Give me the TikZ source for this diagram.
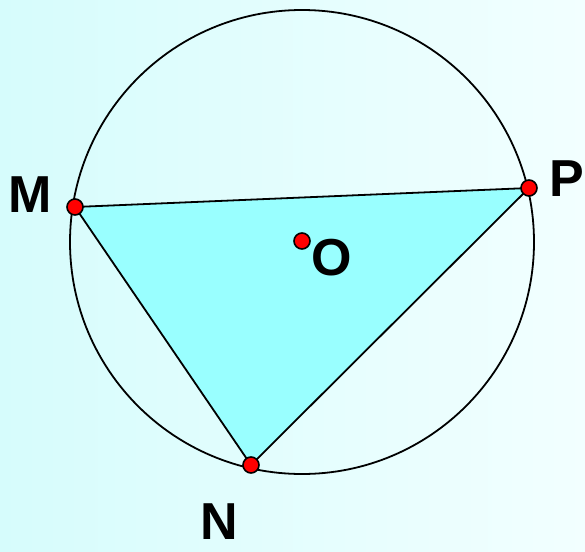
\documentclass[tikz,border=0pt]{standalone}
\usepackage{fontspec}
\setmainfont{Liberation Sans}
\definecolor{bgL}{RGB}{214,252,252}
\definecolor{bgR}{RGB}{242,255,255}
\definecolor{triFill}{RGB}{153,255,255}
\definecolor{dotRed}{RGB}{255,0,0}
\tikzset{
  dot/.style={circle, fill=dotRed, draw=black, line width=1.6pt, minimum size=16pt, inner sep=0pt},
  lbl/.style={font=\fontsize{52}{60}\selectfont\bfseries, inner sep=0pt, text=black},
  edge/.style={line width=1.8pt, draw=black}
}
\begin{document}
\begin{tikzpicture}[x=1pt,y=-1pt]
\useasboundingbox (0,0) rectangle (585,551);
\shade[shading angle=60, left color=bgL, right color=bgR] (0,0) rectangle (585,551);
\coordinate (Mc) at (75,207);
\coordinate (Pc) at (529,188);
\coordinate (Nc) at (251,465);
\coordinate (Oc) at (302,241);
\fill[triFill] (Mc) -- (Pc) -- (Nc) -- cycle;
\draw[edge] (302,242) circle[radius=232];
\draw[edge] (Mc) -- (Pc) -- (Nc) -- (Mc);
\node[dot] (M) at (Mc) {};
\node[dot] (P) at (Pc) {};
\node[dot] (N) at (Nc) {};
\node[dot] (O) at (Oc) {};
\node[lbl] (lM) at (30,195) {M};
\node[lbl] (lP) at (567,179) {P};
\node[lbl] (lO) at (332,258) {O};
\node[lbl] (lN) at (219,522) {N};
\end{tikzpicture}
\end{document}
